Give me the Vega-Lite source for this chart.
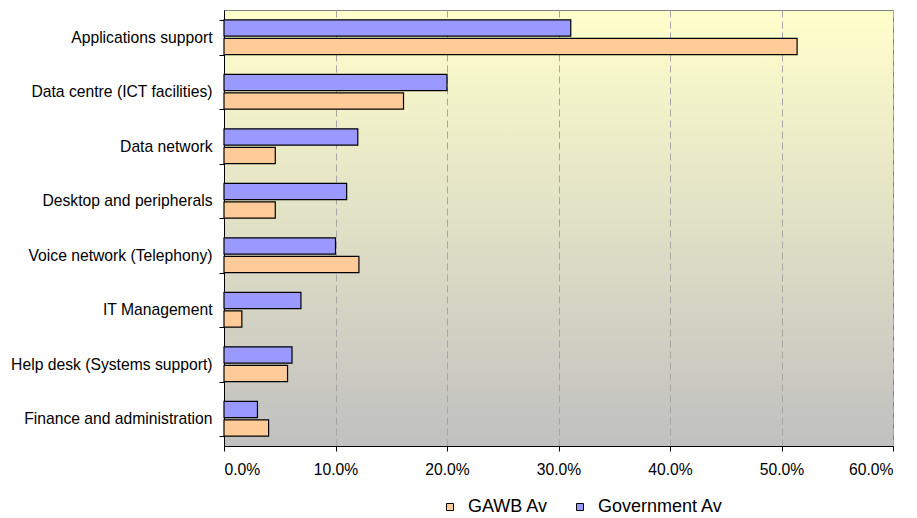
{
  "$schema": "https://vega.github.io/schema/vega-lite/v6.json",
  "width": 669,
  "height": 436,
  "autosize": "none",
  "padding": {"left": 224, "top": 10, "right": 24, "bottom": 72},
  "background": "white",
  "config": {
    "font": "Liberation Sans",
    "view": {
      "stroke": "#808080",
      "strokeWidth": 1,
      "fill": {
        "gradient": "linear",
        "x1": 0, "y1": 0, "x2": 0, "y2": 1,
        "stops": [
          {"offset": 0, "color": "#FFFFCC"},
          {"offset": 1, "color": "#C0C0C0"}
        ]
      }
    },
    "axis": {
      "labelFont": "Liberation Sans",
      "labelFontSize": 15.7,
      "labelColor": "#000000",
      "domainColor": "#000000",
      "tickColor": "#000000",
      "title": null
    }
  },
  "data": {
    "values": [
      {"category": "Applications support", "series": "Government Av", "value": 0.311},
      {"category": "Applications support", "series": "GAWB Av", "value": 0.514},
      {"category": "Data centre (ICT facilities)", "series": "Government Av", "value": 0.200},
      {"category": "Data centre (ICT facilities)", "series": "GAWB Av", "value": 0.161},
      {"category": "Data network", "series": "Government Av", "value": 0.120},
      {"category": "Data network", "series": "GAWB Av", "value": 0.046},
      {"category": "Desktop and peripherals", "series": "Government Av", "value": 0.110},
      {"category": "Desktop and peripherals", "series": "GAWB Av", "value": 0.046},
      {"category": "Voice network (Telephony)", "series": "Government Av", "value": 0.100},
      {"category": "Voice network (Telephony)", "series": "GAWB Av", "value": 0.121},
      {"category": "IT Management", "series": "Government Av", "value": 0.069},
      {"category": "IT Management", "series": "GAWB Av", "value": 0.016},
      {"category": "Help desk (Systems support)", "series": "Government Av", "value": 0.061},
      {"category": "Help desk (Systems support)", "series": "GAWB Av", "value": 0.057},
      {"category": "Finance and administration", "series": "Government Av", "value": 0.030},
      {"category": "Finance and administration", "series": "GAWB Av", "value": 0.040}
    ]
  },
  "mark": {"type": "bar", "stroke": "#000000", "strokeWidth": 1.2},
  "encoding": {
    "y": {
      "field": "category",
      "type": "nominal",
      "sort": null,
      "scale": {"paddingInner": 0.36, "paddingOuter": 0.18},
      "axis": {
        "tickBand": "extent",
        "tickSize": 5,
        "labelPadding": 7,
        "domainWidth": 1,
        "labelLimit": 300
      }
    },
    "yOffset": {
      "field": "series",
      "type": "nominal",
      "scale": {"domain": ["Government Av", "GAWB Av"], "paddingInner": 0.12}
    },
    "x": {
      "field": "value",
      "type": "quantitative",
      "scale": {"domain": [0, 0.6], "nice": false},
      "axis": {
        "format": ".1%",
        "values": [0, 0.1, 0.2, 0.3, 0.4, 0.5, 0.6],
        "tickSize": 5,
        "labelPadding": 11,
        "grid": true,
        "gridColor": "#A6A6A6",
        "gridDash": [7, 4],
        "gridWidth": 1
      }
    },
    "color": {
      "field": "series",
      "type": "nominal",
      "scale": {"domain": ["GAWB Av", "Government Av"], "range": ["#FFCC99", "#9999FF"]},
      "legend": {
        "title": null,
        "orient": "none",
        "direction": "horizontal",
        "padding": 0,
        "legendX": 217,
        "legendY": 488,
        "symbolType": "square",
        "symbolSize": 49,
        "symbolStrokeColor": "#000000",
        "symbolStrokeWidth": 1,
        "labelFontSize": 18,
        "labelFont": "Liberation Sans",
        "labelColor": "#000000",
        "columnPadding": 22,
        "labelOffset": 9
      }
    }
  }
}
